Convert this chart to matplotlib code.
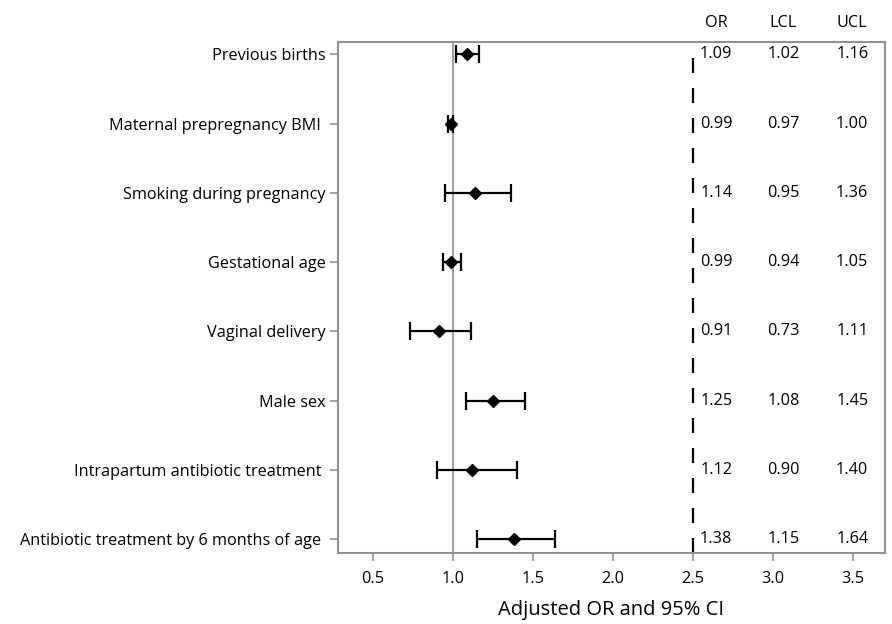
import matplotlib
matplotlib.use("Agg")
import matplotlib.pyplot as plt

plt.rcParams['font.family'] = ['Open Sans', 'DejaVu Sans']
plt.rcParams['lines.scale_dashes'] = False

labels = ["Previous births", "Maternal prepregnancy BMI ", "Smoking during pregnancy",
          "Gestational age", "Vaginal delivery", "Male sex",
          "Intrapartum antibiotic treatment ", "Antibiotic treatment by 6 months of age "]
or_vals = [1.09, 0.99, 1.14, 0.99, 0.91, 1.25, 1.12, 1.38]
lcl_vals = [1.02, 0.97, 0.95, 0.94, 0.73, 1.08, 0.90, 1.15]
ucl_vals = [1.16, 1.00, 1.36, 1.05, 1.11, 1.45, 1.40, 1.64]
xticks = [0.5, 1.0, 1.5, 2.0, 2.5, 3.0, 3.5]
col_heads = ["OR", "LCL", "UCL"]
col_x = [2.645, 3.065, 3.495]

W, H = 892, 624
fig = plt.figure(figsize=(W / 100, H / 100), dpi=100)
L, R, T, B = 338, 885, 42, 553
ax = fig.add_axes([L / W, 1 - B / H, (R - L) / W, (B - T) / H])

grey = '#8e9297'
ys = list(range(len(labels)))

ax.axvline(1.0, color='#a0a4a8', lw=1.5, zorder=1)
ax.axvline(2.5, color='black', lw=1.6, linestyle=(0, (10.8, 10.8)), zorder=1)

xerr = [[o - l for o, l in zip(or_vals, lcl_vals)], [u - o for o, u in zip(or_vals, ucl_vals)]]
ax.errorbar(or_vals, ys, xerr=xerr, fmt='D', color='black', ms=6.6,
            elinewidth=1.6, capsize=6.5, capthick=1.6, zorder=3)

fs = 11.7
for vals, cx in zip([or_vals, lcl_vals, ucl_vals], col_x):
    for y, v in zip(ys, vals):
        ax.text(cx, y, f"{v:.2f}", ha='center', va='center', fontsize=fs, color='black')
for h, cx in zip(col_heads, col_x):
    ax.text(cx, -0.455, h, ha='center', va='center', fontsize=fs,
            color='black', clip_on=False)

ax.set_xlim(0.281, 3.7)
ax.set_ylim(len(labels) - 1 + 0.2, -0.18)
ax.set_xticks(xticks)
ax.set_xticklabels([f"{t:.1f}" for t in xticks])
ax.set_yticks(ys)
ax.set_yticklabels(labels)
ax.tick_params(axis='both', direction='out', length=6, width=1.2, color=grey,
               labelsize=fs, labelcolor='black')
ax.tick_params(axis='y', pad=3)
ax.tick_params(axis='x', pad=7)
for s in ax.spines.values():
    s.set_color(grey)
    s.set_linewidth(1.5)
ax.set_xlabel("Adjusted OR and 95% CI", fontsize=14.5, labelpad=9)

fig.savefig("out.png", dpi=100)
